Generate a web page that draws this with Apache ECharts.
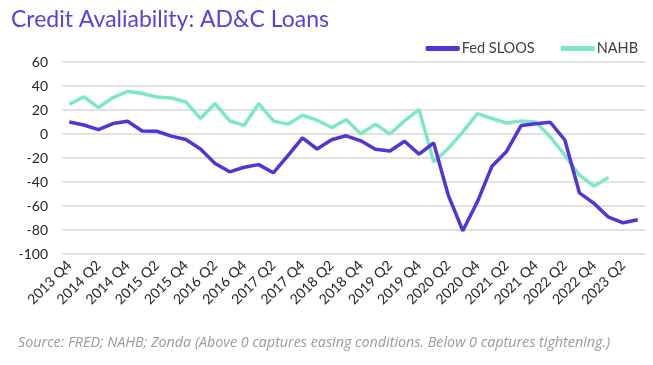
<!DOCTYPE html>
<html><head><meta charset="utf-8">
<script src="https://cdn.jsdelivr.net/npm/echarts@6/dist/echarts.min.js"></script>
<style>html,body{margin:0;padding:0;background:#fff}#c{width:653px;height:365px}</style>
</head><body><div id="c"></div>
<script>
const categories = [];
(function(){ let y=2013,q=4; for(let i=0;i<40;i++){ categories.push(y+' Q'+q); q++; if(q>4){q=1;y++;} } })();
const fedSloos = [10,7.5,3.7,8.7,10.6,2.5,2.3,-1.8,-4.6,-12.5,-24.6,-31.5,-27.7,-25.5,-32.3,-18,-3.3,-12.5,-4.8,-1.5,-5.7,-12.8,-14.2,-6,-16.8,-7.4,-50.9,-80.6,-56.5,-26.8,-14.5,7,8.5,9.8,-5,-49,-57.8,-69.3,-74,-71.5];
const nahb = [24.8,30.9,22,30.4,35.6,33.7,30.9,30,26.7,12.9,25.4,10.9,7.3,25.4,10.9,8.2,15.6,11.5,5.4,12,0,8.2,0,10.9,20.4,-23.2,-12.1,1.8,17,12.9,9.2,10.9,10.1,-2.4,-17.6,-34.3,-43.4,-36.2,null,null];
const yTicks = {min:-100, max:60, interval:20};

const chart = echarts.init(document.getElementById('c'));
chart.setOption({
  animation:false,
  title:{text:'Credit Avaliability: AD&C Loans', left:6, top:3,
    textStyle:{color:'#5b3fd9', fontSize:23, fontWeight:'normal', fontFamily:'Lato'}},
  legend:{right:10, top:36, itemWidth:34, itemHeight:5, itemGap:26,
    icon:'roundRect',
    textStyle:{color:'#404040', fontSize:14.5, fontFamily:'Lato', padding:[0,0,0,-3]},
    data:['Fed SLOOS','NAHB']},
  graphic:[{type:'text', left:18, top:336,
    style:{text:'Source: FRED; NAHB; Zonda (Above 0 captures easing conditions. Below 0 captures tightening.)',
      fill:'#9a9a9a', font:'italic 14.3px "Open Sans"'}}],
  grid:{left:62, right:8, top:62, bottom:111},
  xAxis:{type:'category', data:categories, boundaryGap:true,
    axisLine:{show:false}, axisTick:{show:false},
    axisLabel:{interval:1, rotate:45, color:'#262626', fontSize:14, fontFamily:'Lato', margin:9}},
  yAxis:{type:'value', min:yTicks.min, max:yTicks.max, interval:yTicks.interval,
    axisLine:{show:false}, axisTick:{show:false},
    axisLabel:{color:'#262626', fontSize:14, fontFamily:'Lato', margin:14},
    splitLine:{lineStyle:{color:'#d9d9d9', width:1.5}}},
  series:[
    {name:'Fed SLOOS', type:'line', data:fedSloos, symbol:'none', z:3,
      lineStyle:{color:'#5533d6', width:3.5}, itemStyle:{color:'#5533d6'}},
    {name:'NAHB', type:'line', data:nahb, symbol:'none', z:2,
      lineStyle:{color:'#7ee8c6', width:3.5}, itemStyle:{color:'#7ee8c6'}}
  ]
});
</script></body></html>
